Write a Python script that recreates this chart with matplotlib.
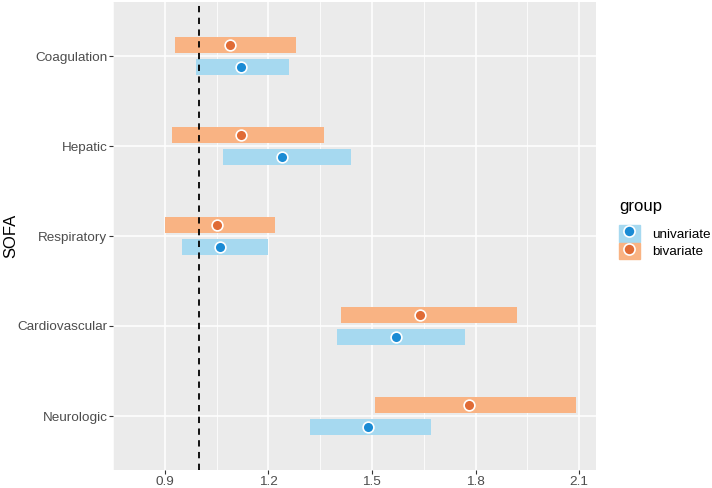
import matplotlib
matplotlib.use("Agg")
import matplotlib.pyplot as plt
from matplotlib.patches import Patch
from matplotlib.lines import Line2D
from matplotlib.legend_handler import HandlerTuple
import numpy as np

plt.rcParams['font.family'] = ['Liberation Sans', 'DejaVu Sans']

# data (bottom to top)
organs = ["Neurologic", "Cardiovascular", "Respiratory", "Hepatic", "Coagulation"]
uni_est = [1.49, 1.57, 1.06, 1.24, 1.12]
uni_lo = [1.32, 1.40, 0.95, 1.07, 0.99]
uni_hi = [1.67, 1.77, 1.20, 1.44, 1.26]
bi_est = [1.78, 1.64, 1.05, 1.12, 1.09]
bi_lo = [1.51, 1.41, 0.90, 0.92, 0.93]
bi_hi = [2.09, 1.92, 1.22, 1.36, 1.28]
xticks = [0.9, 1.2, 1.5, 1.8, 2.1]

blue_bar, blue_pt = "#A6D9F0", "#1A8BD4"
orng_bar, orng_pt = "#F9B383", "#E06B35"

fig = plt.figure(figsize=(7.12, 4.88), dpi=100)
ax = fig.add_axes([113/712, 18/488, (596-113)/712, (486-18)/488])
ax.set_facecolor("#EBEBEB")

y = np.arange(1, len(organs) + 1)
off, h = 0.125, 0.18

ax.barh(y - off, np.array(uni_hi) - np.array(uni_lo), left=uni_lo, height=h,
        color=blue_bar, zorder=2)
ax.barh(y + off, np.array(bi_hi) - np.array(bi_lo), left=bi_lo, height=h,
        color=orng_bar, zorder=2)
ax.scatter(uni_est, y - off, s=60, color=blue_pt, edgecolor="white", linewidth=1.2, zorder=4)
ax.scatter(bi_est, y + off, s=60, color=orng_pt, edgecolor="white", linewidth=1.2, zorder=4)

ax.axvline(1.0, color="black", linestyle=(0, (3.5, 3)), linewidth=1.3, zorder=3)

ax.set_xlim(0.837, 2.149)
ax.set_ylim(0.4, 5.6)
ax.set_xticks(xticks)
ax.set_xticklabels([f"{v:.1f}" for v in xticks])
ax.set_xticks(np.arange(0.75, 2.2, 0.3), minor=True)
ax.set_yticks(y)
ax.set_yticklabels(organs)
ax.grid(which="major", color="white", linewidth=1.1, zorder=0)
ax.grid(which="minor", axis="x", color="white", linewidth=0.55, zorder=0)
ax.set_axisbelow(True)
for s in ax.spines.values():
    s.set_visible(False)
ax.tick_params(which="major", length=2.6, width=0.8, color="#333333",
               labelcolor="#4D4D4D", labelsize=9.7, pad=1.5)
ax.tick_params(which="minor", length=0)
ax.set_ylabel("SOFA", fontsize=12)
ax.yaxis.set_label_coords(-(113 - 18) / (596 - 113), 0.5)

def key(bar, pt):
    return (Patch(color=bar),
            Line2D([], [], marker="o", linestyle="", markersize=8,
                   markerfacecolor=pt, markeredgecolor="white", markeredgewidth=1.2))

handles = [key(blue_bar, blue_pt), key(orng_bar, orng_pt)]
fig.text(619/712, 1 - 207/488, "group", fontsize=12, ha="left", va="center")
leg = fig.legend(handles, ["univariate", "bivariate"],
                 handler_map={tuple: HandlerTuple(ndivide=1, pad=0)},
                 loc="upper left", bbox_to_anchor=(619/712, 1 - 225/488),
                 frameon=False, fontsize=9.7, borderpad=0,
                 handlelength=1.55, handleheight=1.55, handletextpad=0.9,
                 labelspacing=0.05, borderaxespad=0)

fig.savefig("out.png", dpi=100)
